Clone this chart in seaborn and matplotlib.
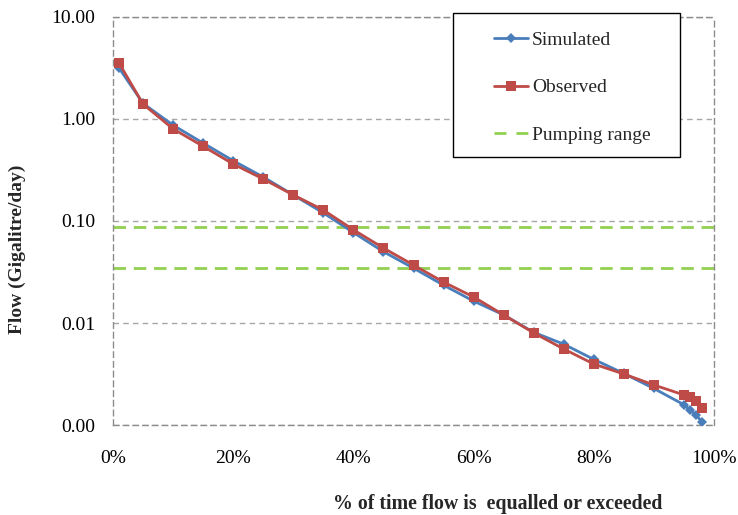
import numpy as np
import pandas as pd
import matplotlib
matplotlib.use("Agg")
import matplotlib.pyplot as plt
import matplotlib.ticker as mticker
from matplotlib.lines import Line2D
from matplotlib.patches import Rectangle
import seaborn as sns

# data
pct_time = [1, 5, 10, 15, 20, 25, 30, 35, 40, 45, 50, 55, 60, 65, 70, 75, 80, 85, 90, 95, 96, 97, 98]
simulated = [3.16, 1.42, 0.87, 0.58, 0.39, 0.27, 0.18, 0.12, 0.077, 0.050, 0.0345, 0.0235, 0.0164,
             0.012, 0.0081, 0.0062, 0.0044, 0.0032, 0.00228, 0.00158, 0.0014, 0.00126, 0.00107]
observed = [3.54, 1.40, 0.80, 0.54, 0.362, 0.258, 0.18, 0.128, 0.082, 0.0543, 0.037, 0.0252, 0.018,
            0.012, 0.008, 0.00556, 0.00396, 0.00316, 0.00247, 0.00197, 0.00188, 0.00172, 0.00147]
pumping_range = [0.087, 0.035]
y_ticks = [0.001, 0.01, 0.1, 1, 10]
x_ticks = [0, 20, 40, 60, 80, 100]

sns.set_style("white")
plt.rcParams['font.family'] = ['Liberation Serif', 'DejaVu Serif']

df = pd.DataFrame({
    'pct': pct_time * 2,
    'flow': simulated + observed,
    'series': ['Simulated'] * len(pct_time) + ['Observed'] * len(pct_time),
})

blue = '#4A7EBB'
red = '#BE4B48'
green = '#92D050'

W, H = 738, 515
fig = plt.figure(figsize=(W / 100, H / 100), dpi=100)
ax = fig.add_axes([113 / W, 1 - 425 / H, 601 / W, 408 / H])

sns.lineplot(data=df, x='pct', y='flow', hue='series', style='series',
             palette={'Simulated': blue, 'Observed': red},
             markers={'Simulated': 'D', 'Observed': 's'},
             dashes=False, linewidth=2, markersize=7, markeredgewidth=0,
             legend=False, ax=ax, zorder=3)
# make diamonds a bit smaller like the reference
for ln in ax.lines:
    if ln.get_marker() == 'D':
        ln.set_markersize(5.5)

for v in pumping_range:
    ax.axhline(v, color=green, linestyle=(0, (4.5, 2.8)), linewidth=2, zorder=2)

ax.set_yscale('log')
ax.set_ylim(0.001, 10)
ax.set_xlim(0, 100)
ax.yaxis.set_major_locator(mticker.FixedLocator(y_ticks))
ax.yaxis.set_minor_locator(mticker.NullLocator())
ax.yaxis.set_major_formatter(mticker.FuncFormatter(lambda v, p: f"{v:.2f}"))
ax.xaxis.set_major_locator(mticker.FixedLocator(x_ticks))
ax.xaxis.set_major_formatter(mticker.FuncFormatter(lambda v, p: f"{v:.0f}%"))

ax.grid(axis='y', color='#A6A6A6', linestyle=(0, (4, 3)), linewidth=1)
for s in ax.spines.values():
    s.set_visible(True)
    s.set_color('#8C8C8C')
    s.set_linestyle((0, (4, 3)))
    s.set_linewidth(1)
ax.tick_params(axis='both', direction='inout', length=6, color='#8C8C8C',
               labelsize=14, labelcolor='black')
ax.tick_params(axis='x', pad=15)
ax.tick_params(axis='y', pad=10)

ax.set_xlabel('% of time flow is  equalled or exceeded', fontsize=14.3, fontweight='bold')
ax.set_ylabel('Flow (Gigalitre/day)', fontsize=14, fontweight='bold')
ax.xaxis.set_label_coords(0.64, -0.168)
ax.yaxis.set_label_coords(-0.145, 0.43)

# legend box drawn by hand so it sits where the Excel one does
fig.patches.append(Rectangle((453 / W, 1 - 157 / H), 227 / W, 144 / H,
                             transform=fig.transFigure, facecolor='white',
                             edgecolor='black', linewidth=1, zorder=5))
handles = [
    Line2D([], [], color=blue, marker='D', markersize=5.5, markeredgewidth=0, linewidth=2),
    Line2D([], [], color=red, marker='s', markersize=7, markeredgewidth=0, linewidth=2),
    Line2D([], [], color=green, linestyle=(0, (4.3, 3.6)), linewidth=2),
]
leg = fig.legend(handles, ['Simulated', 'Observed', 'Pumping range'],
                 loc='upper left', bbox_to_anchor=(494 / W, 1 - 31 / H),
                 fontsize=14, frameon=False, borderpad=0, labelspacing=1.55,
                 handlelength=1.75, handletextpad=0.2, borderaxespad=0)
leg.set_zorder(6)

plt.savefig('out.png', dpi=100)
